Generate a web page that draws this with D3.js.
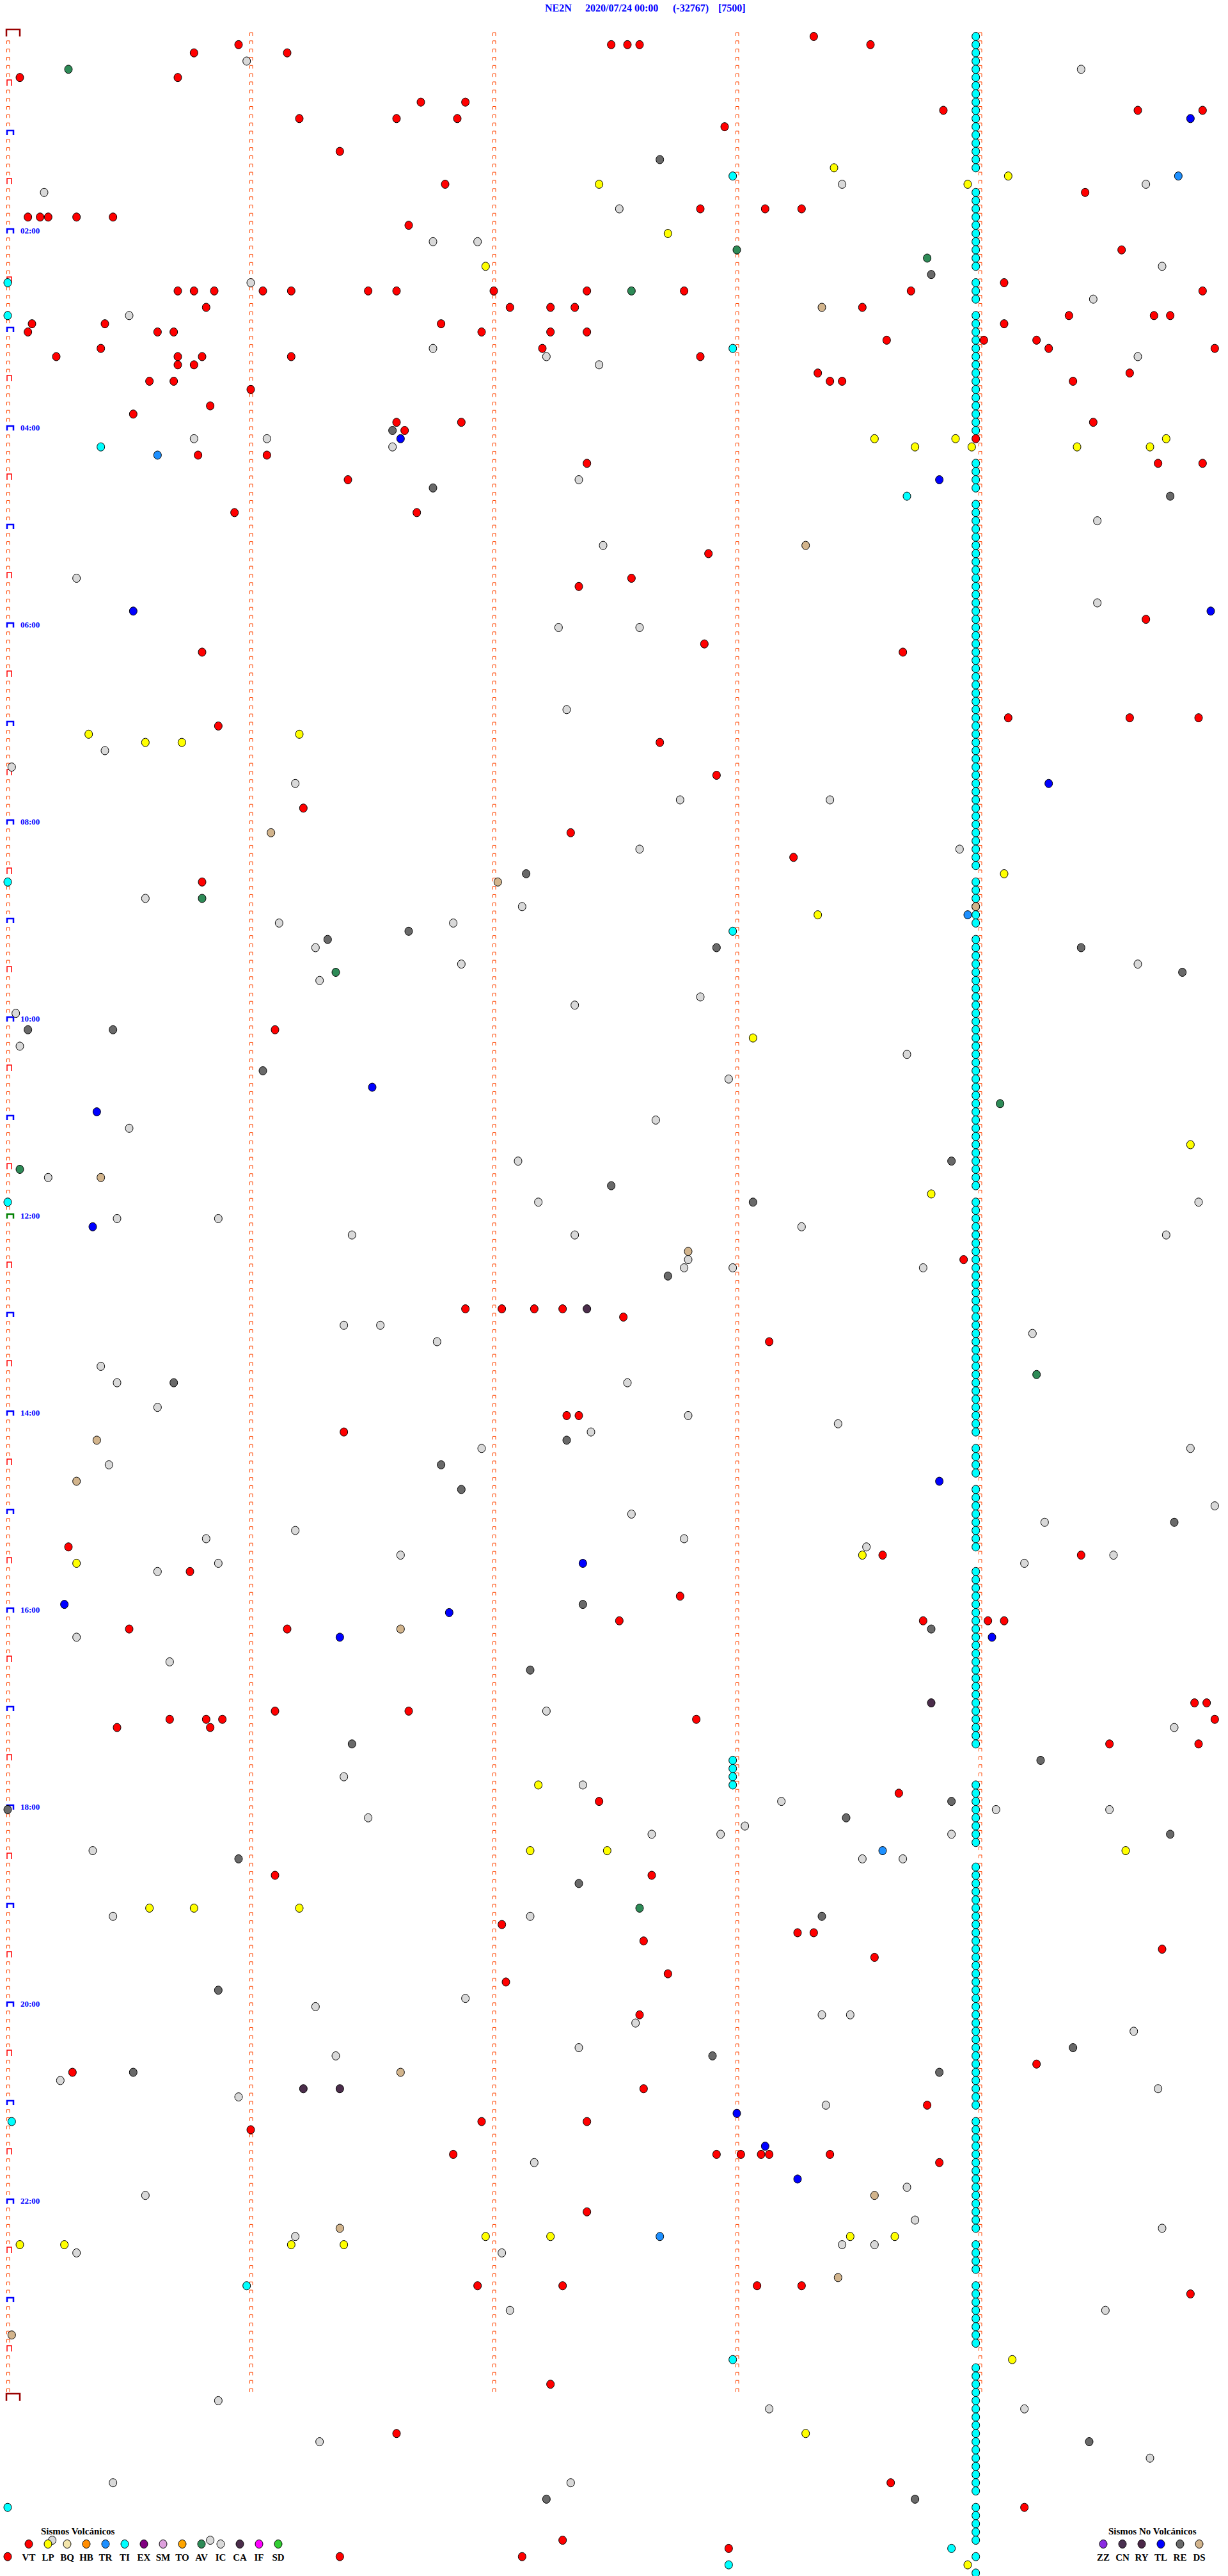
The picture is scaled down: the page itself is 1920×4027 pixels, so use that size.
<!DOCTYPE html>
<html><head><meta charset="utf-8">
<script src="https://cdn.jsdelivr.net/npm/d3@7"></script>
<style>body{margin:0;background:#fff}svg{display:block}</style>
</head><body><svg id="c" width="1920" height="4027"></svg>
<script>
// ---------- header ----------
const station = "NE2N", dateLabel = "2020/07/24 00:00", offsetLabel = "(-32767)", scaleLabel = "[7500]";
const hourLabels = ["02:00","04:00","06:00","08:00","10:00","12:00","14:00","16:00","18:00","20:00","22:00"];

// ---------- events (HH:MM:SS from 00:00 of the day) ----------
const VT = ["00:03:19","00:05:57","00:07:29","00:07:33","00:07:36","00:08:33","00:10:46","00:11:09","00:25:03","00:25:42","00:41:42","00:41:53","00:48:51","00:49:39","00:49:55","00:51:12","00:51:36","00:51:51","00:57:57","01:11:22","01:31:48","01:39:26","01:47:51","01:48:07","01:48:16","01:50:05","01:50:08","01:50:10","01:50:17","01:50:26","01:56:39","02:14:35","02:34:06","02:35:42","02:35:46","02:35:51","02:36:03","02:36:10","02:36:29","02:36:36","02:37:00","02:37:23","02:37:47","02:38:43","02:39:55","02:45:49","02:47:04","02:47:14","02:47:20","02:48:31","02:54:22","02:54:43","02:54:47","02:55:06","02:55:24","02:56:47","02:59:06","03:00:05","03:00:37","03:00:41","03:01:57","03:02:14","03:02:23","03:08:37","03:09:01","03:09:14","03:10:23","03:12:12","03:14:17","03:14:58","03:15:12","03:15:42","03:15:48","03:16:10","03:17:51","03:20:42","03:20:46","03:28:20","03:29:37","03:30:35","03:30:41","03:33:23","03:33:26","03:34:23","03:36:00","03:45:50","03:50:31","03:56:36","03:56:52","03:59:28","04:01:38","04:08:59","04:15:47","04:16:04","04:22:23","04:24:44","04:24:55","04:31:24","04:50:56","04:51:41","05:17:53","05:32:34","05:37:21","05:59:41","06:12:52","06:15:48","06:18:41","06:59:07","06:59:37","06:59:54","07:00:52","07:12:41","07:32:55","07:51:13","08:07:19","08:23:14","08:35:48","10:06:06","12:28:56","12:56:53","12:57:02","12:57:10","12:57:17","13:02:32","13:18:08","14:02:18","14:02:21","14:11:23","15:20:15","15:28:36","15:29:25","15:35:45","15:52:46","16:07:31","16:08:46","16:09:02","16:09:06","16:10:30","16:11:09","16:59:53","16:59:56","17:01:06","17:01:39","17:05:40","17:05:49","17:05:53","17:07:50","17:09:58","17:10:27","17:10:50","17:24:32","17:24:54","17:53:40","17:57:26","18:41:06","18:42:39","19:12:02","19:18:15","19:18:19","19:22:37","19:29:45","19:33:34","19:42:43","19:47:03","20:07:36","20:39:14","20:40:16","20:52:37","21:03:47","21:11:57","21:12:23","21:16:00","21:31:50","21:32:55","21:33:01","21:33:06","21:33:08","21:33:23","21:38:50","22:07:23","22:51:56","22:52:17","22:53:05","22:53:16","22:59:52","23:52:14","24:21:36","24:53:38","25:09:11","25:27:17","25:32:58","25:35:00","25:36:22","25:37:07"];
const LP = ["01:23:24","01:29:07","01:32:26","01:33:57","02:02:43","02:21:58","04:08:34","04:08:54","04:09:46","04:13:44","04:13:58","04:14:24","04:14:42","07:05:20","07:06:12","07:10:34","07:10:43","08:34:06","08:58:20","10:13:04","11:19:52","11:48:48","15:28:31","15:30:17","17:47:11","18:27:09","18:27:28","18:29:36","19:00:35","19:00:46","19:01:12","22:21:58","22:22:14","22:23:28","22:23:39","22:25:03","22:25:14","22:26:10","22:26:23","23:39:08","24:23:17","25:43:57"];
const TR = ["01:29:49","04:15:37","08:58:57","18:28:36","22:22:41"];
const AV = ["00:20:15","02:13:00","02:18:47","02:37:34","08:45:48","09:31:21","10:54:05","11:30:03","13:39:14","19:02:36"];
const IC = ["00:15:59","00:24:25","01:33:26","01:34:41","01:35:09","01:47:31","02:06:45","02:06:56","02:24:45","02:31:00","02:44:28","02:50:30","03:11:45","03:17:13","03:19:39","03:22:26","04:05:46","04:06:04","04:11:35","04:32:21","04:59:29","05:12:27","05:30:17","05:49:29","06:02:16","06:02:36","06:52:18","07:15:24","07:25:01","07:36:11","07:47:46","07:48:23","08:17:36","08:18:55","08:45:34","08:52:07","09:01:07","09:01:50","09:16:16","09:26:52","09:29:39","09:36:17","09:47:51","09:52:20","09:55:02","10:15:03","10:23:42","10:37:58","11:02:40","11:05:30","11:27:06","11:35:10","11:52:11","11:54:54","12:00:27","12:00:52","12:08:16","12:11:25","12:12:20","12:14:46","12:27:48","12:32:47","12:32:59","12:33:46","13:06:23","13:06:32","13:14:13","13:16:46","13:30:23","13:40:27","13:42:33","13:55:37","14:02:48","14:08:25","14:12:24","14:21:57","14:24:52","14:30:25","14:59:58","15:02:34","15:09:16","15:11:11","15:15:49","15:17:47","15:23:32","15:26:37","15:29:33","15:30:52","15:34:11","15:35:37","16:15:17","16:30:40","17:02:13","17:14:48","17:41:23","17:47:22","17:58:11","18:04:04","18:04:32","18:06:29","18:13:02","18:17:39","18:17:56","18:18:53","18:25:21","18:33:31","18:33:41","19:05:26","19:07:09","19:56:53","20:01:16","20:08:21","20:08:28","20:12:35","20:19:38","20:27:21","20:31:21","20:45:13","20:54:44","20:55:57","21:03:22","21:37:10","21:53:42","21:55:34","22:13:44","22:19:45","22:21:11","22:28:26","22:28:34","22:30:17","22:32:02","23:07:04","23:09:31","24:00:52","24:08:08","24:09:11","24:26:17","24:39:42","24:50:26","24:52:19","25:25:11","25:25:50"];
const CA = ["12:57:23","16:58:48","20:51:13","20:51:22"];
const TL = ["00:54:52","04:06:37","04:33:50","05:50:31","05:54:57","07:39:17","10:41:30","10:55:22","12:05:21","14:43:50","15:32:22","15:55:14","16:01:49","16:16:22","16:19:03","21:08:00","21:28:07","21:48:15"];
const RE = ["01:17:41","02:28:48","04:01:35","04:36:45","04:44:47","08:32:08","09:06:39","09:11:19","09:17:55","09:19:25","09:34:50","10:05:05","10:05:26","10:31:03","11:28:53","11:42:29","11:53:04","12:37:43","13:40:41","14:17:18","14:31:47","14:46:52","15:09:48","15:57:22","16:13:48","16:37:09","17:21:25","17:34:15","17:58:53","18:00:00","18:08:27","18:19:47","18:30:57","18:47:21","19:08:21","19:50:52","20:29:23","20:32:54","20:40:31","20:43:50","24:29:27","25:02:13","25:03:44"];
const DS = ["02:48:21","05:13:17","08:06:05","08:37:01","08:53:59","11:35:23","12:22:48","14:15:22","14:40:17","16:11:37","20:41:37","21:58:34","22:16:22","22:48:25","23:20:01"];
const TI = ["01:27:59","02:30:00","02:50:00","03:12:59","04:10:23","04:43:42","08:35:00","09:07:59","11:50:00","17:32:59","17:37:59","17:42:59","17:47:59","21:10:01","22:50:59","23:37:59","25:05:00","25:33:53","25:38:59","25:42:58","25:48:59",
"00:03:59","00:08:59","00:13:59","00:18:59","00:23:59","00:28:59","00:33:59","00:38:59","00:43:59","00:48:59","00:53:59","00:58:59",
"01:03:59","01:08:59","01:13:59","01:18:59","01:23:59","01:38:59","01:43:59","01:48:59","01:53:59","01:58:59",
"02:03:59","02:08:59","02:13:59","02:18:59","02:23:59","02:33:59","02:38:59","02:43:59","02:53:59","02:58:59",
"03:03:59","03:08:59","03:13:59","03:18:59","03:23:59","03:28:59","03:33:59","03:38:59","03:43:59","03:48:59","03:53:59","03:58:59",
"04:03:59","04:23:59","04:28:59","04:33:59","04:38:59","04:48:59","04:53:59","04:58:59",
"05:03:59","05:08:59","05:13:59","05:18:59","05:23:59","05:28:59","05:33:59","05:38:59","05:43:59","05:48:59","05:53:59","05:58:59",
"06:03:59","06:08:59","06:13:59","06:18:59","06:23:59","06:28:59","06:33:59","06:38:59","06:43:59","06:48:59","06:53:59","06:58:59",
"07:03:59","07:08:59","07:13:59","07:18:59","07:23:59","07:28:59","07:33:59","07:38:59","07:43:59","07:48:59","07:53:59","07:58:59",
"08:03:59","08:08:59","08:13:59","08:18:59","08:23:59","08:28:59","08:38:59","08:43:59","08:48:59","08:53:59","08:58:59",
"09:03:59","09:13:59","09:18:59","09:23:59","09:28:59","09:33:59","09:38:59","09:43:59","09:48:59","09:53:59","09:58:59",
"10:03:59","10:08:59","10:13:59","10:18:59","10:23:59","10:28:59","10:33:59","10:38:59","10:43:59","10:48:59","10:53:59","10:58:59",
"11:03:59","11:08:59","11:13:59","11:18:59","11:23:59","11:28:59","11:33:59","11:38:59","11:43:59","11:53:59","11:58:59",
"12:03:59","12:08:59","12:13:59","12:18:59","12:23:59","12:28:59","12:33:59","12:38:59","12:43:59","12:48:59","12:53:59","12:58:59",
"13:03:59","13:08:59","13:13:59","13:18:59","13:23:59","13:28:59","13:33:59","13:38:59","13:43:59","13:48:59","13:53:59","13:58:59",
"14:03:59","14:08:59","14:13:59","14:23:59","14:28:59","14:33:59","14:38:59","14:48:59","14:53:59","14:58:59",
"15:03:59","15:08:59","15:13:59","15:18:59","15:23:59","15:38:59","15:43:59","15:48:59","15:53:59","15:58:59",
"16:03:59","16:08:59","16:13:59","16:18:59","16:23:59","16:28:59","16:33:59","16:38:59","16:43:59","16:48:59","16:53:59","16:58:59",
"17:03:59","17:08:59","17:13:59","17:18:59","17:23:59","17:48:59","17:53:59","17:58:59",
"18:03:59","18:08:59","18:13:59","18:18:59","18:23:59","18:38:59","18:43:59","18:48:59","18:53:59","18:58:59",
"19:03:59","19:08:59","19:13:59","19:18:59","19:23:59","19:28:59","19:33:59","19:38:59","19:43:59","19:48:59","19:53:59","19:58:59",
"20:03:59","20:08:59","20:13:59","20:18:59","20:23:59","20:28:59","20:33:59","20:38:59","20:43:59","20:48:59","20:53:59","20:58:59",
"21:03:59","21:13:59","21:18:59","21:23:59","21:28:59","21:33:59","21:38:59","21:43:59","21:48:59","21:53:59","21:58:59",
"22:03:59","22:08:59","22:13:59","22:18:59","22:28:59","22:33:59","22:38:59","22:43:59","22:53:59","22:58:59",
"23:03:59","23:08:59","23:13:59","23:18:59","23:23:59","23:28:59","23:43:59","23:48:59","23:53:59","23:58:59",
"24:03:59","24:08:59","24:13:59","24:18:59","24:23:59","24:28:59","24:33:59","24:38:59","24:43:59","24:48:59","24:53:59","24:58:59",
"25:08:59","25:13:59","25:18:59","25:23:59","25:28:59"];

// ---------- legend ----------
const volcTypes  = ["VT","LP","BQ","HB","TR","TI","EX","SM","TO","AV","IC","CA","IF","SD"];
const volcColors = ["#ff0000","#ffff00","#f3e5ab","#ff8c00","#1e90ff","#00ffff","#800080","#dda0dd","#ffa500","#2e8b57","#d9d9d9","#4b2d4b","#ff00ff","#32cd32"];
const nonVolcTypes  = ["ZZ","CN","RY","TL","RE","DS"];
const nonVolcColors = ["#8a2be2","#4a3050","#4b2848","#0000ff","#696969","#d2b48c"];

const colorOf = {};
volcTypes.forEach((t,i)=>colorOf[t]=volcColors[i]);
nonVolcTypes.forEach((t,i)=>colorOf[t]=nonVolcColors[i]);

const series = {VT, LP, TR, TI, AV, IC, CA, TL, RE, DS};
const toSec = s => { const [h,m,x] = s.split(":").map(Number); return h*3600 + m*60 + x; };
const events = [];
Object.entries(series).forEach(([type, arr]) => arr.forEach(s => events.push({type, t: toSec(s)})));
events.sort((a,b)=>a.t-b.t);

// ---------- scales ----------
const rowSeconds = 300, nRows = 288;
const x = d3.scaleLinear().domain([0, rowSeconds]).range([12, 1912]);
const y = d3.scaleLinear().domain([0, nRows]).range([57, 57 + 12.833*nRows]);

const svg = d3.select("#c");
const serif = "'Liberation Serif','Times New Roman',serif";

// title
const title = svg.append("g").attr("font-family", serif).attr("font-weight","bold")
  .attr("font-size", 16).attr("fill", "#0000ff");
[[station,852],[dateLabel,915],[offsetLabel,1052],[scaleLabel,1123]].forEach(([s,px]) =>
  title.append("text").attr("x", px).attr("y", 18).text(s));

// minute markers
const marks = svg.append("g").attr("fill","none");
const minuteCols = [0,60,120,180,240];
for (let r = 0; r <= nRows; r++) {
  minuteCols.forEach((s, ci) => {
    if (ci > 0 && r === nRows) return;
    const x0 = x(s), yy = y(r);
    if (ci === 0 && (r === 0 || r === nRows)) {
      marks.append("path").attr("d", `M${x0-2},${yy} V${yy-11} H${x0+19} V${yy}`)
        .attr("stroke","#990000").attr("stroke-width",2.5);
    } else if (ci === 0 && r % 12 === 0) {
      marks.append("path").attr("d", `M${x0-1},${yy} V${yy-7} H${x0+9} V${yy}`)
        .attr("stroke", r === 144 ? "#008000" : "#0000ff").attr("stroke-width",2.5);
    } else if (ci === 0 && r % 6 === 0) {
      marks.append("path").attr("d", `M${x0-1},${yy} V${yy-9} H${x0+6} V${yy}`)
        .attr("stroke","#ff0000").attr("stroke-width",1.5);
    } else {
      marks.append("path").attr("d", `M${x0-1.5},${yy-1} V${yy-6} H${x0+3} V${yy-1}`)
        .attr("stroke","#ff4500").attr("stroke-width",1);
    }
  });
}

// hour labels
svg.append("g").selectAll("text").data(hourLabels).join("text")
  .attr("x", 32).attr("y", d => y(toSec(d + ":00")/rowSeconds))
  .attr("font-family", serif).attr("font-weight","bold").attr("font-size",13)
  .attr("fill","#0000ff").text(d => d);

// events
svg.append("g").selectAll("ellipse").data(events).join("ellipse")
  .attr("cx", d => x(d.t % rowSeconds))
  .attr("cy", d => y(Math.floor(d.t / rowSeconds)))
  .attr("rx", 6).attr("ry", 6.5)
  .attr("fill", d => colorOf[d.type]).attr("stroke","#000").attr("stroke-width",1);

// legends
function legend(titleText, titleX, types, colors, x0) {
  const g = svg.append("g").attr("font-family", serif).attr("font-weight","bold").attr("font-size",15).attr("fill","#000");
  g.append("text").attr("x", titleX).attr("y", 3962).text(titleText);
  const lx = d3.scalePoint().domain(types).range([x0, x0 + 30*(types.length-1)]);
  g.selectAll("ellipse").data(types).join("ellipse")
    .attr("cx", d => lx(d)).attr("cy", 3977).attr("rx", 6).attr("ry", 6.5)
    .attr("fill", (d,i) => colors[i]).attr("stroke","#000").attr("stroke-width",1);
  g.selectAll("text.lab").data(types).join("text").attr("class","lab")
    .attr("x", d => lx(d)).attr("y", 4003).attr("text-anchor","middle").text(d => d);
}
legend("Sismos Volcánicos", 64, volcTypes, volcColors, 45);
legend("Sismos No Volcánicos", 1733, nonVolcTypes, nonVolcColors, 1725);
</script></body></html>
